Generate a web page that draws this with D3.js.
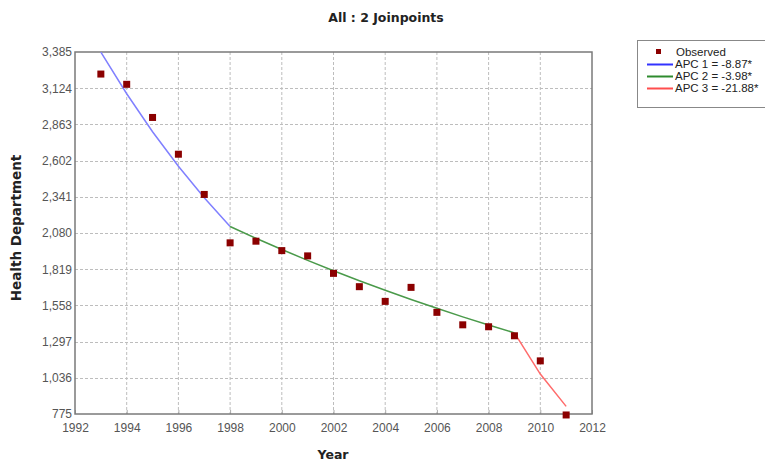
<!DOCTYPE html>
<html>
<head>
<meta charset="utf-8">
<script src="https://cdn.jsdelivr.net/npm/d3@7"></script>
<style>
  html, body { margin: 0; padding: 0; background: #fff; }
  svg { display: block; }
</style>
</head>
<body>
<svg id="chart" width="765" height="462"></svg>
<script>
// Observed counts by year
const years = [1993, 1994, 1995, 1996, 1997, 1998, 1999, 2000, 2001, 2002,
               2003, 2004, 2005, 2006, 2007, 2008, 2009, 2010, 2011];
const observed = [3226, 3152, 2913, 2648, 2358, 2009, 2021, 1953, 1915, 1789,
                  1693, 1587, 1688, 1508, 1418, 1404, 1339, 1158, 768];

// Joinpoint model fit, one segment per APC
const seg1Years = [1993, 1994, 1995, 1996, 1997, 1998];
const seg1Fit   = [3384, 3084, 2810, 2561, 2334, 2127];
const seg2Years = [1998, 1999, 2000, 2001, 2002, 2003, 2004, 2005, 2006, 2007, 2008, 2009];
const seg2Fit   = [2127, 2042, 1961, 1883, 1808, 1736, 1667, 1600, 1537, 1475, 1417, 1360];
const seg3Years = [2009, 2010, 2011];
const seg3Fit   = [1360, 1063, 830];

const legendLabels = ["Observed", "APC 1 =  -8.87*", "APC 2 =  -3.98*", "APC 3 = -21.88*"];
const xTicks = [1992, 1994, 1996, 1998, 2000, 2002, 2004, 2006, 2008, 2010, 2012];
const yTicks = [775, 1036, 1297, 1558, 1819, 2080, 2341, 2602, 2863, 3124, 3385];

const svg = d3.select("#chart");
const plot = { left: 75, top: 52, right: 592, bottom: 414 };

const x = d3.scaleLinear().domain([1992, 2012]).range([plot.left, plot.right]);
const y = d3.scaleLinear().domain([775, 3385]).range([plot.bottom, plot.top]);

const tickFont = "'Liberation Sans', Arial, sans-serif";
const boldFont = "'DejaVu Sans', Verdana, sans-serif";

// Title
svg.append("text")
  .attr("x", 386).attr("y", 22)
  .attr("text-anchor", "middle")
  .style("font-family", boldFont).style("font-weight", "bold").style("font-size", "12.5px")
  .attr("fill", "#222")
  .text("All : 2 Joinpoints");

// Grid lines
const grid = svg.append("g");
grid.selectAll("line.gx").data(xTicks.slice(1, -1)).join("line")
  .attr("x1", d => x(d)).attr("x2", d => x(d))
  .attr("y1", plot.top).attr("y2", plot.bottom)
  .attr("stroke", "#bdbdbd").attr("stroke-dasharray", "3,2").attr("stroke-width", 1);
grid.selectAll("line.gy").data(yTicks.slice(1, -1)).join("line")
  .attr("x1", plot.left).attr("x2", plot.right)
  .attr("y1", d => Math.round(y(d)) + 0.5).attr("y2", d => Math.round(y(d)) + 0.5)
  .attr("stroke", "#bdbdbd").attr("stroke-dasharray", "3,2").attr("stroke-width", 1);

// Axes
const xAxis = d3.axisBottom(x).tickValues(xTicks).tickFormat(d3.format("d")).tickSize(4).tickSizeOuter(0);
const yAxis = d3.axisLeft(y).tickValues(yTicks).tickFormat(d3.format(",")).tickSize(0).tickPadding(3);

const gx = svg.append("g").attr("transform", `translate(0,${plot.bottom})`).call(xAxis);
gx.select(".domain").remove();
gx.selectAll(".tick line").attr("stroke", "#aaa").attr("transform", "translate(0,-4)");
gx.selectAll(".tick text").attr("dy", "0.9em")
  .style("font-family", tickFont).style("font-size", "12px").attr("fill", "#555");

const gy = svg.append("g").attr("transform", `translate(${plot.left},0)`).call(yAxis);
gy.select(".domain").remove();
gy.selectAll(".tick text")
  .style("font-family", tickFont).style("font-size", "12px").attr("fill", "#555");

// Plot frame
svg.append("rect")
  .attr("x", plot.left).attr("y", plot.top)
  .attr("width", plot.right - plot.left).attr("height", plot.bottom - plot.top)
  .attr("fill", "none").attr("stroke", "#7a7a7a").attr("stroke-width", 1.5);

// Axis titles
svg.append("text")
  .attr("x", 333).attr("y", 459)
  .attr("text-anchor", "middle")
  .style("font-family", boldFont).style("font-weight", "bold").style("font-size", "12.5px")
  .attr("fill", "#222")
  .text("Year");
svg.append("text")
  .attr("transform", `translate(21,228) rotate(-90)`)
  .attr("text-anchor", "middle")
  .style("font-family", boldFont).style("font-weight", "bold").style("font-size", "13.5px")
  .attr("fill", "#222")
  .text("Health Department");

// Fitted segments
svg.append("clipPath").attr("id", "plotClip").append("rect")
  .attr("x", plot.left).attr("y", plot.top)
  .attr("width", plot.right - plot.left).attr("height", plot.bottom - plot.top);

const line = d3.line().x(d => x(d[0])).y(d => y(d[1]));
const segments = [
  { pts: d3.zip(seg1Years, seg1Fit), color: "#8080ff" },
  { pts: d3.zip(seg2Years, seg2Fit), color: "#4a9a4a" },
  { pts: d3.zip(seg3Years, seg3Fit), color: "#ff6b6b" }
];
svg.append("g").attr("clip-path", "url(#plotClip)")
  .selectAll("path").data(segments).join("path")
  .attr("d", d => line(d.pts))
  .attr("fill", "none").attr("stroke", d => d.color).attr("stroke-width", 1.5);

// Observed points
svg.append("g").selectAll("rect").data(d3.zip(years, observed)).join("rect")
  .attr("x", d => x(d[0]) - 3.5).attr("y", d => y(d[1]) - 3.5)
  .attr("width", 7).attr("height", 7)
  .attr("fill", "#8b0000");

// Legend
const lg = svg.append("g");
lg.append("rect")
  .attr("x", 637.5).attr("y", 40.5).attr("width", 140).attr("height", 67)
  .attr("fill", "#fff").attr("stroke", "#888").attr("stroke-width", 1);
const legendColors = [null, "#3333ff", "#2e8b2e", "#ff4d4d"];
legendLabels.forEach((t, i) => {
  const cy = 52 + i * 12;
  if (i === 0) {
    lg.append("rect").attr("x", 656).attr("y", cy - 3).attr("width", 5).attr("height", 5).attr("fill", "#8b0000");
  } else {
    lg.append("line").attr("x1", 647).attr("x2", 673).attr("y1", cy + 0.5).attr("y2", cy + 0.5)
      .attr("stroke", legendColors[i]).attr("stroke-width", 2);
  }
  lg.append("text")
    .attr("x", i === 0 ? 676 : 675).attr("y", cy + 4)
    .style("font-family", tickFont).style("font-size", "11.5px").attr("fill", "#222")
    .text(t);
});
</script>
</body>
</html>
